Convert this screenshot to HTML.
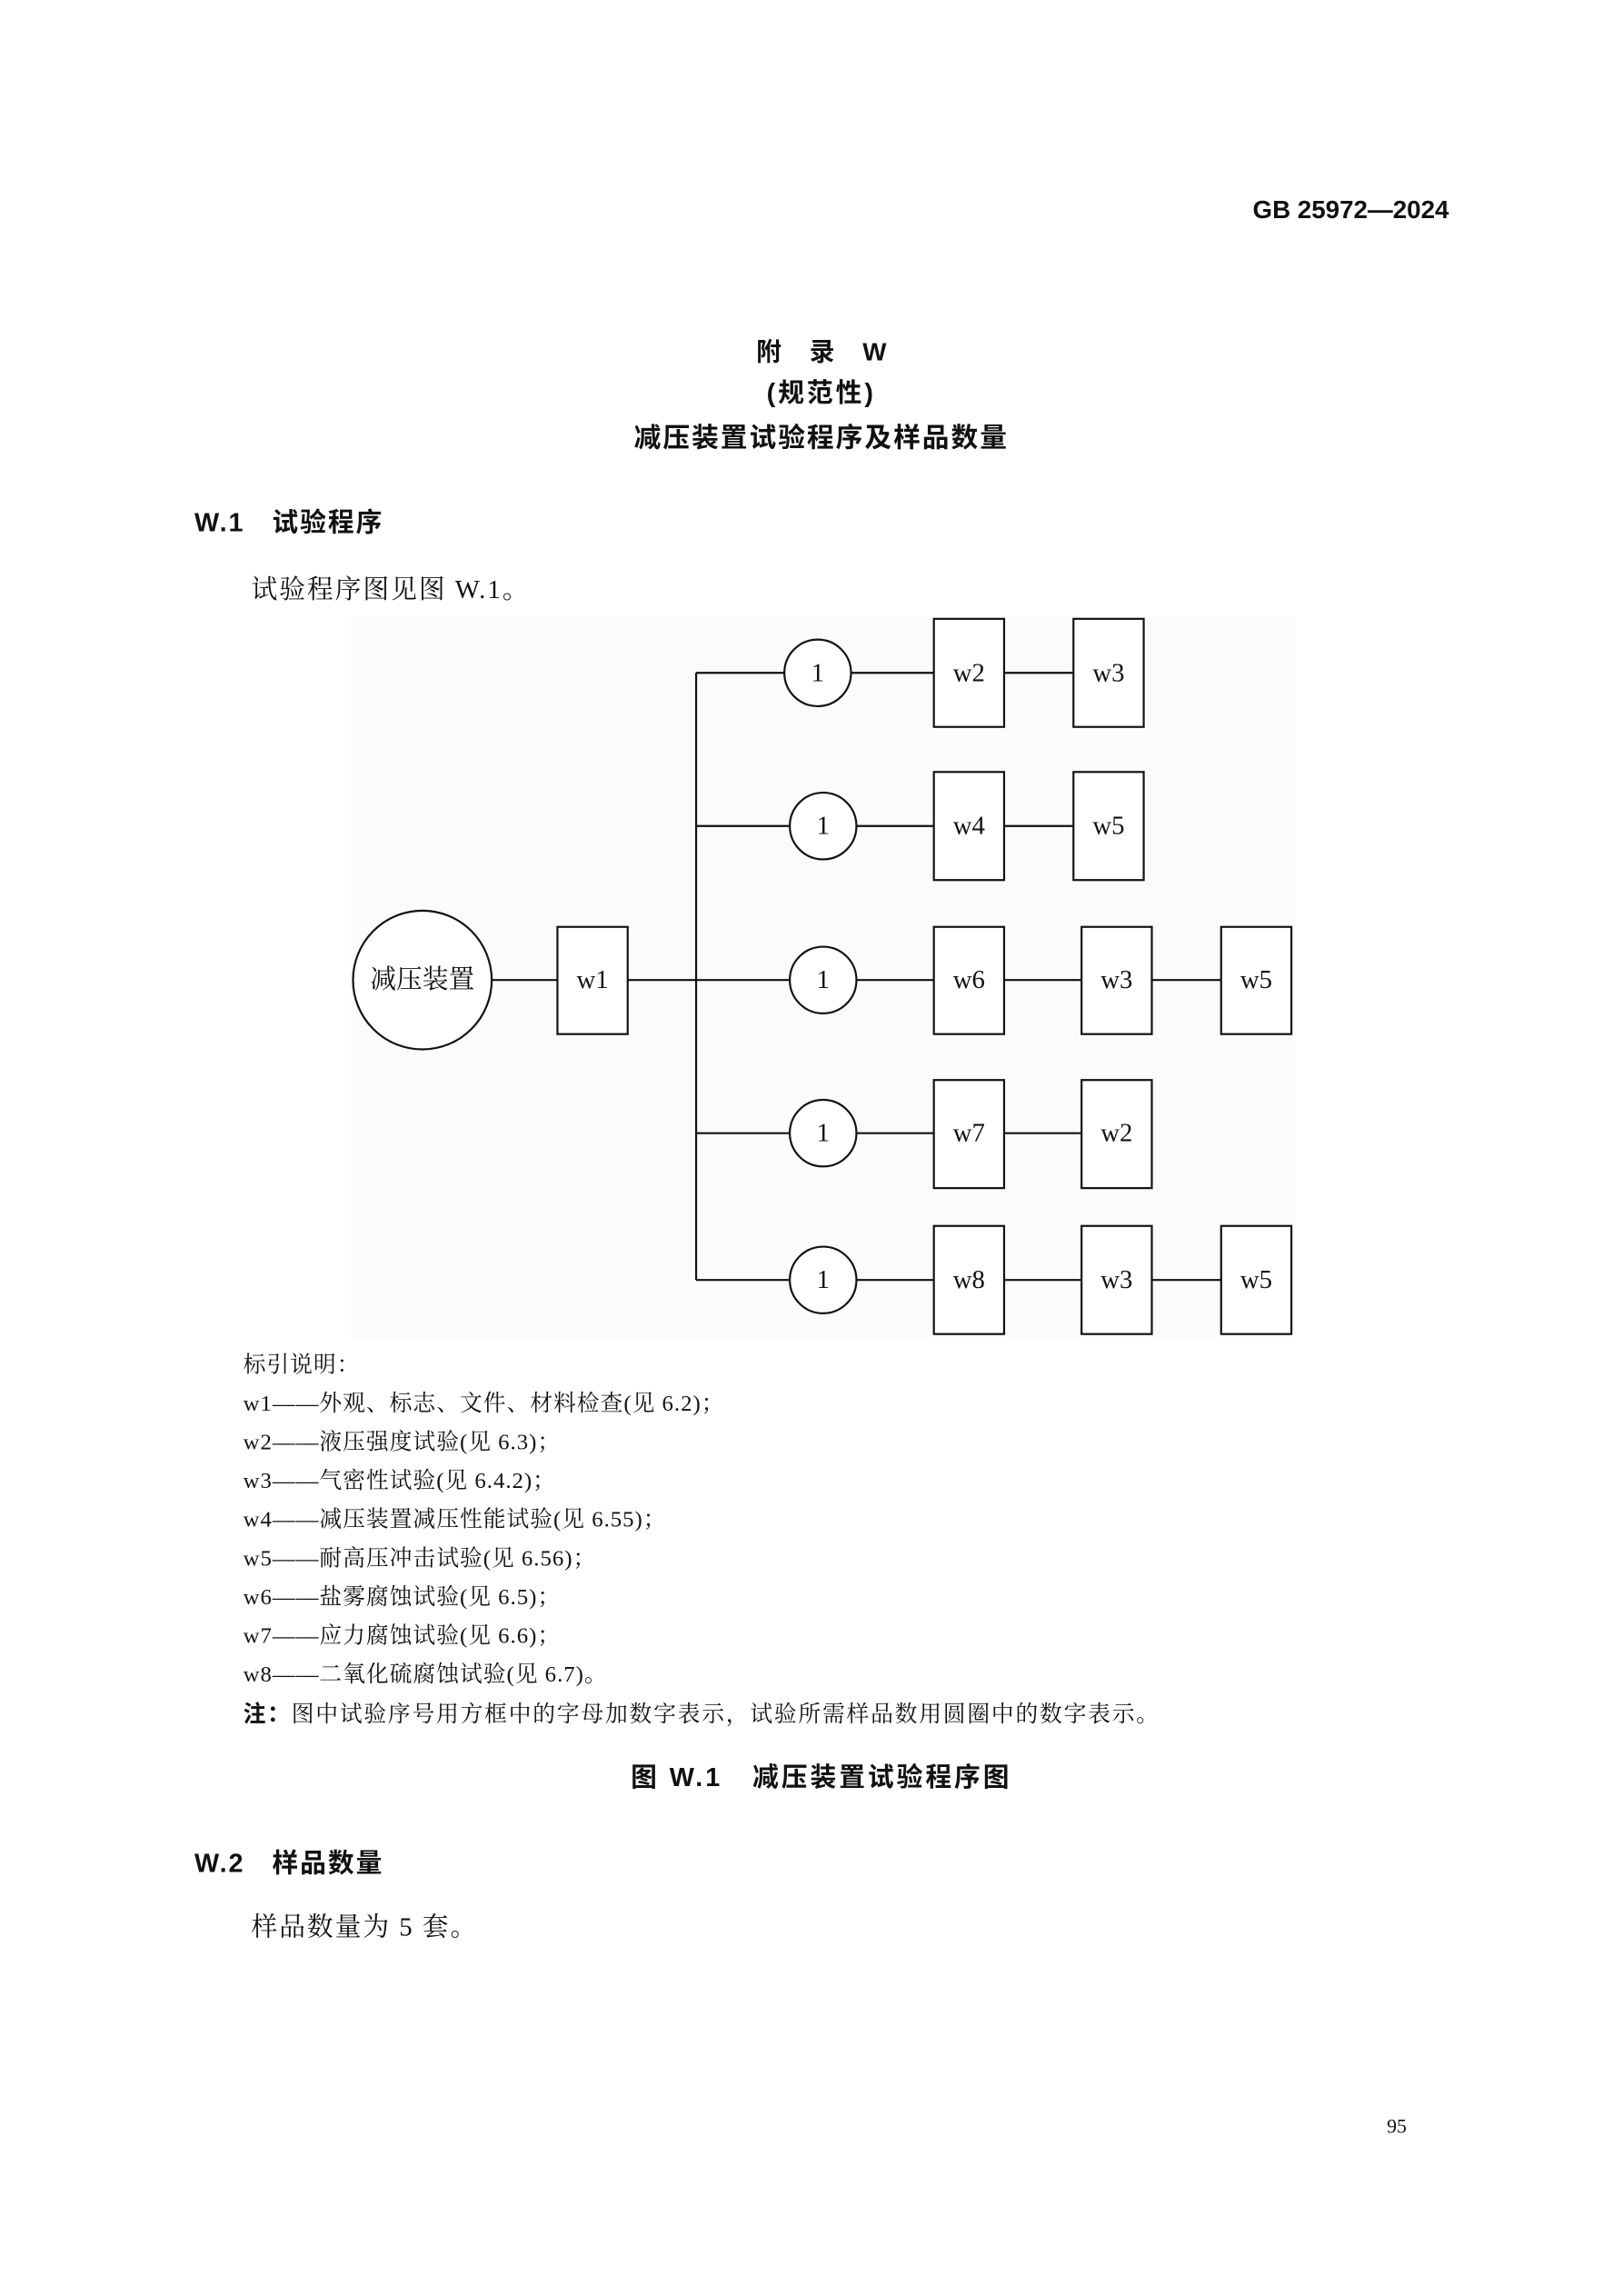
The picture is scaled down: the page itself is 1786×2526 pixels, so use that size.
<!DOCTYPE html>
<html><head><meta charset="utf-8">
<style>
html,body{margin:0;padding:0;background:#fff;}
body{width:1786px;height:2526px;position:relative;overflow:hidden;}
#w{position:absolute;left:0;top:0;width:1786px;height:2526px;transform:scale(0.991);transform-origin:0 0;}
.t{position:absolute;white-space:nowrap;line-height:1;color:#111;}
.s{font-family:"Liberation Serif","Noto Serif CJK SC",serif;}
.h{font-family:"Liberation Sans","Noto Sans CJK SC",sans-serif;font-weight:bold;}
.c{transform:translateX(-50%);}
.lg{font-family:"Liberation Serif","Noto Serif CJK SC",serif;font-size:25px;letter-spacing:1px;}
</style></head><body><div id="w">
<div class="t h" style="left:1391px;top:219px;font-size:28px;">GB 25972—2024</div>
<div class="t h c" style="left:912px;top:377px;font-size:28px;">附&nbsp;&nbsp;&nbsp;&nbsp;录&nbsp;&nbsp;&nbsp;&nbsp;W</div>
<div class="t h c" style="left:912px;top:423px;font-size:29px;letter-spacing:3px;">(规范性)</div>
<div class="t h c" style="left:912px;top:472px;font-size:30px;letter-spacing:2px;">减压装置试验程序及样品数量</div>
<div class="t h" style="left:216px;top:567px;font-size:29px;letter-spacing:2px;">W.1&nbsp;&nbsp;&nbsp;试验程序</div>
<div class="t s" style="left:279px;top:641px;font-size:29px;letter-spacing:2px;">试验程序图见图 W.1。</div>

<svg style="position:absolute;left:0;top:0" width="1786" height="2526">
<rect x="390" y="685" width="1048" height="800" fill="#fbfbfb"/>
<g stroke="#111" stroke-width="2.2" fill="none">
<circle cx="469" cy="1088" r="77" fill="#fff"/>
<line x1="546" y1="1088" x2="619" y2="1088"/>
<rect x="619" y="1029" width="78" height="119" fill="#fff"/>
<line x1="697" y1="1088" x2="773" y2="1088"/>
<line x1="773" y1="747" x2="773" y2="1421"/>
<line x1="773" y1="747" x2="871" y2="747"/>
<circle cx="908" cy="747" r="37" fill="#fff"/>
<line x1="945" y1="747" x2="1037" y2="747"/>
<rect x="1037" y="687" width="78" height="120" fill="#fff"/>
<line x1="1115" y1="747" x2="1192" y2="747"/>
<rect x="1192" y="687" width="78" height="120" fill="#fff"/>
<line x1="773" y1="917" x2="877" y2="917"/>
<circle cx="914" cy="917" r="37" fill="#fff"/>
<line x1="951" y1="917" x2="1037" y2="917"/>
<rect x="1037" y="857" width="78" height="120" fill="#fff"/>
<line x1="1115" y1="917" x2="1192" y2="917"/>
<rect x="1192" y="857" width="78" height="120" fill="#fff"/>
<line x1="773" y1="1088" x2="877" y2="1088"/>
<circle cx="914" cy="1088" r="37" fill="#fff"/>
<line x1="951" y1="1088" x2="1037" y2="1088"/>
<rect x="1037" y="1029" width="78" height="119" fill="#fff"/>
<line x1="1115" y1="1088" x2="1201" y2="1088"/>
<rect x="1201" y="1029" width="78" height="119" fill="#fff"/>
<line x1="1279" y1="1088" x2="1356" y2="1088"/>
<rect x="1356" y="1029" width="78" height="119" fill="#fff"/>
<line x1="773" y1="1258" x2="877" y2="1258"/>
<circle cx="914" cy="1258" r="37" fill="#fff"/>
<line x1="951" y1="1258" x2="1037" y2="1258"/>
<rect x="1037" y="1199" width="78" height="120" fill="#fff"/>
<line x1="1115" y1="1258" x2="1201" y2="1258"/>
<rect x="1201" y="1199" width="78" height="120" fill="#fff"/>
<line x1="773" y1="1421" x2="877" y2="1421"/>
<circle cx="914" cy="1421" r="37" fill="#fff"/>
<line x1="951" y1="1421" x2="1037" y2="1421"/>
<rect x="1037" y="1361" width="78" height="120" fill="#fff"/>
<line x1="1115" y1="1421" x2="1201" y2="1421"/>
<rect x="1201" y="1361" width="78" height="120" fill="#fff"/>
<line x1="1279" y1="1421" x2="1356" y2="1421"/>
<rect x="1356" y="1361" width="78" height="120" fill="#fff"/>
</g>
<g font-family="Liberation Serif, Noto Serif CJK SC, serif" font-size="29" fill="#111" text-anchor="middle" dominant-baseline="central">
<text x="469" y="1088">减压装置</text>
<text x="658" y="1088">w1</text>
<text x="908" y="747">1</text><text x="1076" y="747">w2</text><text x="1231" y="747">w3</text>
<text x="914" y="917">1</text><text x="1076" y="917">w4</text><text x="1231" y="917">w5</text>
<text x="914" y="1088">1</text><text x="1076" y="1088">w6</text><text x="1240" y="1088">w3</text><text x="1395" y="1088">w5</text>
<text x="914" y="1258">1</text><text x="1076" y="1258">w7</text><text x="1240" y="1258">w2</text>
<text x="914" y="1421">1</text><text x="1076" y="1421">w8</text><text x="1240" y="1421">w3</text><text x="1395" y="1421">w5</text>
</g>
</svg>

<div class="t lg" style="left:270px;top:1503px;">标引说明：</div>
<div class="t lg" style="left:270px;top:1546px;">w1——外观、标志、文件、材料检查(见 6.2)；</div>
<div class="t lg" style="left:270px;top:1589px;">w2——液压强度试验(见 6.3)；</div>
<div class="t lg" style="left:270px;top:1632px;">w3——气密性试验(见 6.4.2)；</div>
<div class="t lg" style="left:270px;top:1675px;">w4——减压装置减压性能试验(见 6.55)；</div>
<div class="t lg" style="left:270px;top:1718px;">w5——耐高压冲击试验(见 6.56)；</div>
<div class="t lg" style="left:270px;top:1761px;">w6——盐雾腐蚀试验(见 6.5)；</div>
<div class="t lg" style="left:270px;top:1804px;">w7——应力腐蚀试验(见 6.6)；</div>
<div class="t lg" style="left:270px;top:1847px;">w8——二氧化硫腐蚀试验(见 6.7)。</div>
<div class="t lg" style="left:270px;top:1891px;letter-spacing:1.8px;"><b style="font-family:'Liberation Sans','Noto Sans CJK SC',sans-serif;">注：</b>图中试验序号用方框中的字母加数字表示，试验所需样品数用圆圈中的数字表示。</div>
<div class="t h c" style="left:912px;top:1960px;font-size:29px;letter-spacing:3px;">图 W.1&nbsp;&nbsp;&nbsp;减压装置试验程序图</div>
<div class="t h" style="left:216px;top:2055px;font-size:29px;letter-spacing:2px;">W.2&nbsp;&nbsp;&nbsp;样品数量</div>
<div class="t s" style="left:279px;top:2126px;font-size:29px;letter-spacing:2px;">样品数量为 5 套。</div>
<div class="t s" style="left:1540px;top:2350px;font-size:22px;">95</div>
</div></body></html>
